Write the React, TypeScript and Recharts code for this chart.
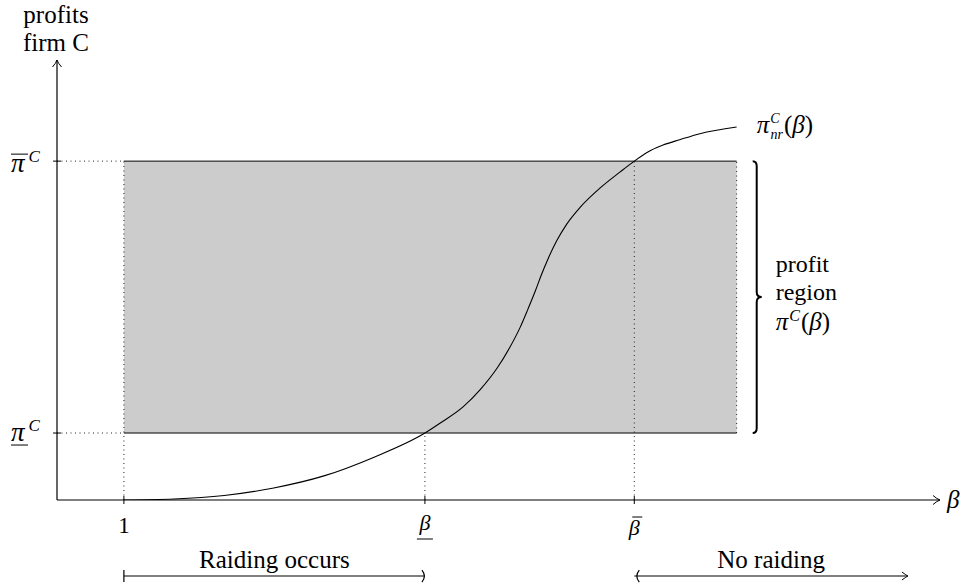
import React from "react";
import { ComposedChart, Line, XAxis, YAxis, ReferenceArea, ReferenceLine, ReferenceDot } from "recharts";

const serif = '"Liberation Serif", "Times New Roman", serif';
const txt = { fontFamily: serif, fill: "#000" };

// axis ranges and marked levels
const betaMax = 13.2;
const profitMax = 6.57;
const betaTicks = [1, 5.5, 8.63];
const betaTickLabels = ["1", "β", "β"];
const betaTickMarks = ["none", "under", "over"];
const profitTicks = [1, 5.06];
const profitTickMarks = ["under", "over"];
const regionLeft = 1;
const regionRight = 10.16;
const braceBeta = 10.46;
const rangeRow = -1.135;
const noRaidEnd = 12.72;

// pi^C_nr(beta)
const curveBeta = [1.0, 1.75, 2.5, 3.24, 3.99, 4.74, 5.5, 5.73, 6.07, 6.32, 6.58, 6.77, 6.92, 7.04, 7.15, 7.24, 7.34, 7.47, 7.62, 7.82, 8.12, 8.42, 8.63, 8.82, 9.06, 9.31, 9.61, 10.16];
const curveProfit = [0.0, 0.015, 0.067, 0.18, 0.36, 0.64, 1.0, 1.15, 1.39, 1.64, 1.97, 2.28, 2.57, 2.85, 3.12, 3.36, 3.6, 3.87, 4.12, 4.37, 4.66, 4.9, 5.06, 5.19, 5.3, 5.38, 5.47, 5.57];

const curveData = curveBeta.map((beta, i) => ({ beta, profit: curveProfit[i] }));

const dotted = { stroke: "#222", strokeWidth: 1, strokeDasharray: "1 3.5" };

function BetaTick({ x, y, payload }: any) {
  const i = betaTicks.indexOf(payload.value);
  const mark = betaTickMarks[i];
  return (
    <g style={txt}>
      <line x1={x} x2={x} y1={y - 4} y2={y + 4} stroke="#000" strokeWidth={1} />
      {mark === "none" && (
        <text x={x} y={y + 33} textAnchor="middle" fontSize={23} style={txt}>
          {betaTickLabels[i]}
        </text>
      )}
      {mark === "under" && (
        <>
          <text x={x} y={y + 30} textAnchor="middle" fontSize={22} fontStyle="italic" style={txt}>
            {betaTickLabels[i]}
          </text>
          <line x1={x - 8} x2={x + 8} y1={y + 39} y2={y + 39} stroke="#000" strokeWidth={1} />
        </>
      )}
      {mark === "over" && (
        <>
          <text x={x} y={y + 35} textAnchor="middle" fontSize={22} fontStyle="italic" style={txt}>
            {betaTickLabels[i]}
          </text>
          <line x1={x - 2} x2={x + 8} y1={y + 17} y2={y + 17} stroke="#000" strokeWidth={1} />
        </>
      )}
    </g>
  );
}

function ProfitTick({ x, y, payload }: any) {
  const i = profitTicks.indexOf(payload.value);
  const over = profitTickMarks[i] === "over";
  const base = over ? y + 11 : y + 8;
  const bar = over ? base - 18 : base + 4;
  return (
    <g style={txt}>
      <line x1={x - 4} x2={x + 4} y1={y} y2={y} stroke="#000" strokeWidth={1} />
      <text x={x - 46} y={base} fontSize={27} fontStyle="italic" style={txt}>
        π
        <tspan dx={4} dy={-10} fontSize={17}>C</tspan>
      </text>
      <line x1={x - 46} x2={x - 29} y1={bar} y2={bar} stroke="#000" strokeWidth={1} />
    </g>
  );
}

function Brace({ x1, y1, y2 }: any) {
  const top = Math.min(y1, y2);
  const bot = Math.max(y1, y2);
  const mid = (top + bot) / 2;
  const x = x1;
  const d = `M${x - 4},${top} Q${x},${top} ${x},${top + 5} L${x},${mid - 5} Q${x},${mid} ${x + 5},${mid} Q${x},${mid} ${x},${mid + 5} L${x},${bot - 5} Q${x},${bot} ${x - 4},${bot}`;
  return (
    <g style={txt}>
      <path d={d} fill="none" stroke="#000" strokeWidth={2} />
      <text x={x + 19} y={mid - 25} fontSize={24} style={txt}>
        <tspan x={x + 19}>profit</tspan>
        <tspan x={x + 19} dy={28}>region</tspan>
        <tspan x={x + 19} dy={30} fontSize={25} fontStyle="italic">π</tspan>
        <tspan dx={1} dy={-9} fontSize={16} fontStyle="italic">C</tspan>
        <tspan dx={1} dy={9} fontSize={25}>(</tspan>
        <tspan fontSize={25} fontStyle="italic">β</tspan>
        <tspan fontSize={25}>)</tspan>
      </text>
    </g>
  );
}

function RangeArrow({ x1, x2, y1, label, kind }: any) {
  const a = Math.min(x1, x2);
  const b = Math.max(x1, x2);
  const y = y1;
  return (
    <g style={txt}>
      <line x1={a} x2={b} y1={y} y2={y} stroke="#000" strokeWidth={1.2} />
      {kind === "left" ? (
        <>
          <line x1={a} x2={a} y1={y - 6} y2={y + 6} stroke="#000" strokeWidth={1.2} />
          <path d={`M${b - 3},${y - 6} Q${b + 2},${y} ${b - 3},${y + 6}`} fill="none" stroke="#000" strokeWidth={1.2} />
        </>
      ) : (
        <>
          <path d={`M${a + 5},${y - 6} Q${a},${y} ${a + 5},${y + 6}`} fill="none" stroke="#000" strokeWidth={1.2} />
          <path d={`M${b - 6},${y - 4} Q${b - 2},${y - 1} ${b},${y} Q${b - 2},${y + 1} ${b - 6},${y + 4}`} fill="none" stroke="#000" strokeWidth={1} />
        </>
      )}
      <text x={(a + b) / 2} y={y - 8} textAnchor="middle" fontSize={25} style={txt}>
        {label}
      </text>
    </g>
  );
}

function CurveLabel({ cx, cy }: any) {
  // pi, stacked C / nr, then (beta), kept in one text run
  return (
    <text x={cx + 20} y={cy + 6} fontSize={25} style={txt}>
      <tspan fontStyle="italic">π</tspan>
      <tspan dx={1} dy={-10} fontSize={14} fontStyle="italic">C</tspan>
      <tspan dx={-9} dy={16} fontSize={14} fontStyle="italic">nr</tspan>
      <tspan dx={1} dy={-6}>(</tspan>
      <tspan fontStyle="italic">β</tspan>
      <tspan>)</tspan>
    </text>
  );
}

export default function App() {
  return (
    <div style={{ width: 967, height: 588, fontFamily: serif }}>
      <style>{"body{margin:0}"}</style>
      <ComposedChart width={967} height={588} data={curveData} margin={{ top: 60, right: 27, bottom: 0, left: 0 }}>
        <XAxis
          dataKey="beta"
          type="number"
          domain={[0, betaMax]}
          allowDataOverflow
          ticks={betaTicks}
          interval={0}
          height={88}
          tickSize={0}
          tickMargin={0}
          tickLine={false}
          axisLine={{ stroke: "#000", strokeWidth: 1.2 }}
          tick={<BetaTick />}
        />
        <YAxis
          type="number"
          domain={[0, profitMax]}
          allowDataOverflow
          ticks={profitTicks}
          interval={0}
          width={57}
          tickSize={0}
          tickMargin={0}
          tickLine={false}
          axisLine={{ stroke: "#000", strokeWidth: 1.2 }}
          tick={<ProfitTick />}
        />
        <ReferenceArea x1={regionLeft} x2={regionRight} y1={profitTicks[0]} y2={profitTicks[1]} fill="#cccccc" fillOpacity={1} stroke="none" />
        <ReferenceLine segment={[{ x: 0, y: profitTicks[1] }, { x: regionLeft, y: profitTicks[1] }]} {...dotted} />
        <ReferenceLine segment={[{ x: 0, y: profitTicks[0] }, { x: regionLeft, y: profitTicks[0] }]} {...dotted} />
        <ReferenceLine segment={[{ x: regionLeft, y: 0 }, { x: regionLeft, y: profitTicks[1] }]} {...dotted} />
        <ReferenceLine segment={[{ x: betaTicks[1], y: 0 }, { x: betaTicks[1], y: profitTicks[0] }]} {...dotted} />
        <ReferenceLine segment={[{ x: betaTicks[2], y: 0 }, { x: betaTicks[2], y: profitTicks[1] }]} {...dotted} />
        <ReferenceLine segment={[{ x: regionRight, y: profitTicks[0] }, { x: regionRight, y: profitTicks[1] }]} {...dotted} />
        <ReferenceLine segment={[{ x: regionLeft, y: profitTicks[1] }, { x: regionRight, y: profitTicks[1] }]} stroke="#000" strokeWidth={1} />
        <ReferenceLine segment={[{ x: regionLeft, y: profitTicks[0] }, { x: regionRight, y: profitTicks[0] }]} stroke="#000" strokeWidth={1} />
        <Line dataKey="profit" type="monotone" dot={false} stroke="#000" strokeWidth={1.1} isAnimationActive={false} />
        <ReferenceLine
          segment={[{ x: braceBeta, y: profitTicks[1] }, { x: braceBeta, y: profitTicks[0] }]}
          ifOverflow="visible"
          shape={(p: any) => <Brace {...p} />}
        />
        <ReferenceLine
          segment={[{ x: betaTicks[0], y: rangeRow }, { x: betaTicks[1], y: rangeRow }]}
          ifOverflow="visible"
          shape={(p: any) => <RangeArrow {...p} label="Raiding occurs" kind="left" />}
        />
        <ReferenceLine
          segment={[{ x: betaTicks[2], y: rangeRow }, { x: noRaidEnd, y: rangeRow }]}
          ifOverflow="visible"
          shape={(p: any) => <RangeArrow {...p} label="No raiding" kind="right" />}
        />
        <ReferenceDot
          x={curveBeta[curveBeta.length - 1]}
          y={curveProfit[curveProfit.length - 1]}
          ifOverflow="visible"
          shape={(p: any) => <CurveLabel {...p} />}
        />
        <ReferenceDot
          x={betaMax}
          y={0}
          ifOverflow="visible"
          shape={(p: any) => (
            <g style={txt}>
              <path d={`M${p.cx - 7},${p.cy - 4.5} Q${p.cx - 3},${p.cy - 1} ${p.cx},${p.cy} Q${p.cx - 3},${p.cy + 1} ${p.cx - 7},${p.cy + 4.5}`} fill="none" stroke="#000" strokeWidth={1} />
              <text x={p.cx + 7} y={p.cy + 8} fontSize={25} fontStyle="italic" style={txt}>β</text>
            </g>
          )}
        />
        <ReferenceDot
          x={0}
          y={profitMax}
          ifOverflow="visible"
          shape={(p: any) => (
            <g style={txt}>
              <path d={`M${p.cx - 4.5},${p.cy + 7} Q${p.cx - 1},${p.cy + 3} ${p.cx},${p.cy} Q${p.cx + 1},${p.cy + 3} ${p.cx + 4.5},${p.cy + 7}`} fill="none" stroke="#000" strokeWidth={1} />
              <text x={p.cx - 1} y={p.cy - 37} textAnchor="middle" fontSize={25} style={txt}>profits</text>
              <text x={p.cx - 1} y={p.cy - 9} textAnchor="middle" fontSize={25} style={txt}>firm C</text>
            </g>
          )}
        />
      </ComposedChart>
    </div>
  );
}
